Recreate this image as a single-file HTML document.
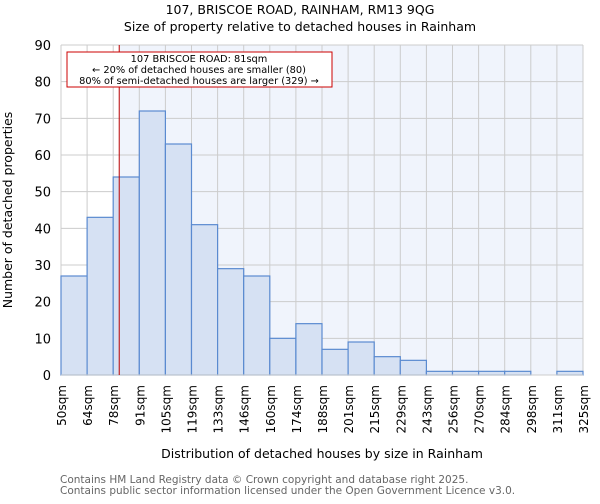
<!DOCTYPE html>
<html><head><meta charset="utf-8"><style>
body{margin:0;background:#fff;font-family:"DejaVu Sans","Liberation Sans",sans-serif;}
svg text{font-family:"DejaVu Sans","Liberation Sans",sans-serif;}
</style></head><body>
<svg id="chart" width="600" height="500" xmlns="http://www.w3.org/2000/svg">
<text x="300" y="14" text-anchor="middle" font-size="12.5">107, BRISCOE ROAD, RAINHAM, RM13 9QG</text>
<text x="300" y="31" text-anchor="middle" font-size="12.5">Size of property relative to detached houses in Rainham</text>
<g id="plot"></g>
<text x="322" y="458" text-anchor="middle" font-size="12.5">Distribution of detached houses by size in Rainham</text>
<text transform="translate(12,210) rotate(-90)" text-anchor="middle" font-size="12.5">Number of detached properties</text>
<text x="60" y="483" font-size="10.5" fill="#666">Contains HM Land Registry data © Crown copyright and database right 2025.</text>
<text x="60" y="494" font-size="10.5" fill="#666">Contains public sector information licensed under the Open Government Licence v3.0.</text>
</svg>
<script>
const categories=["50sqm","64sqm","78sqm","91sqm","105sqm","119sqm","133sqm","146sqm","160sqm","174sqm","188sqm","201sqm","215sqm","229sqm","243sqm","256sqm","270sqm","284sqm","298sqm","311sqm","325sqm"];
const counts=[27,43,54,72,63,41,29,27,10,14,7,9,5,4,1,1,1,1,0,1];
const yTicks=[0,10,20,30,40,50,60,70,80,90];
const propertySize=81;
const binEdges=[50,64,78,91,105,119,133,146,160,174,188,201,215,229,243,256,270,284,298,311,325];
const X0=61,X1=583,Y0=375,Y1=45,YMAX=90;
const bw=(X1-X0)/counts.length;
const xs=i=>X0+i*bw;
const ys=v=>Y0-(v/YMAX)*(Y0-Y1);
function sizeX(s){for(let i=0;i<binEdges.length-1;i++){if(s<=binEdges[i+1]){return xs(i)+(s-binEdges[i])/(binEdges[i+1]-binEdges[i])*bw;}}return X1;}
const NS="http://www.w3.org/2000/svg";
const g=document.getElementById('plot');
function el(t,a){const e=document.createElementNS(NS,t);for(const k in a)e.setAttribute(k,a[k]);g.appendChild(e);return e;}
const mx=sizeX(propertySize);
let r=el('rect',{x:mx,y:Y1,width:X1-mx,height:Y0-Y1,fill:'#f0f4fc'});


for(let i=0;i<categories.length;i++){
 const l=el('line',{x1:xs(i),x2:xs(i),y1:Y1,y2:Y0,stroke:'#ccc','stroke-width':1});
 
 
 const t=el('text',{transform:`translate(${xs(i)+5},${Y0+10}) rotate(-90)`,'text-anchor':'end','font-size':12});
 t.textContent=categories[i];
 
 
}
yTicks.forEach(v=>{
 const l=el('line',{x1:X0,x2:X1,y1:ys(v),y2:ys(v),stroke:'#ccc','stroke-width':1});
 
 
 const t=el('text',{x:X0-10,y:ys(v)+5,'text-anchor':'end','font-size':13});
 t.textContent=v;
 
 
});
counts.forEach((v,i)=>{
 if(v<=0)return;
 const b=el('rect',{x:xs(i),y:ys(v),width:bw,height:Y0-ys(v),fill:'#d6e1f3',stroke:'#5a8ad0','stroke-width':1.2});
 
 
});
const bl=el('line',{x1:X0,x2:X1,y1:Y0,y2:Y0,stroke:'#ccc','stroke-width':1});


const ml=el('line',{x1:mx,x2:mx,y1:Y1,y2:Y0,stroke:'#b00','stroke-width':1});


const box=el('rect',{x:67,y:52,width:265,height:35,fill:'#fff',stroke:'#c00','stroke-width':1});


["107 BRISCOE ROAD: 81sqm","← 20% of detached houses are smaller (80)","80% of semi-detached houses are larger (329) →"].forEach((s,i)=>{
 const t=el('text',{x:199,y:62+i*11,'text-anchor':'middle','font-size':9.8});
 t.textContent=s;
 
 
});
</script>
</body></html>
